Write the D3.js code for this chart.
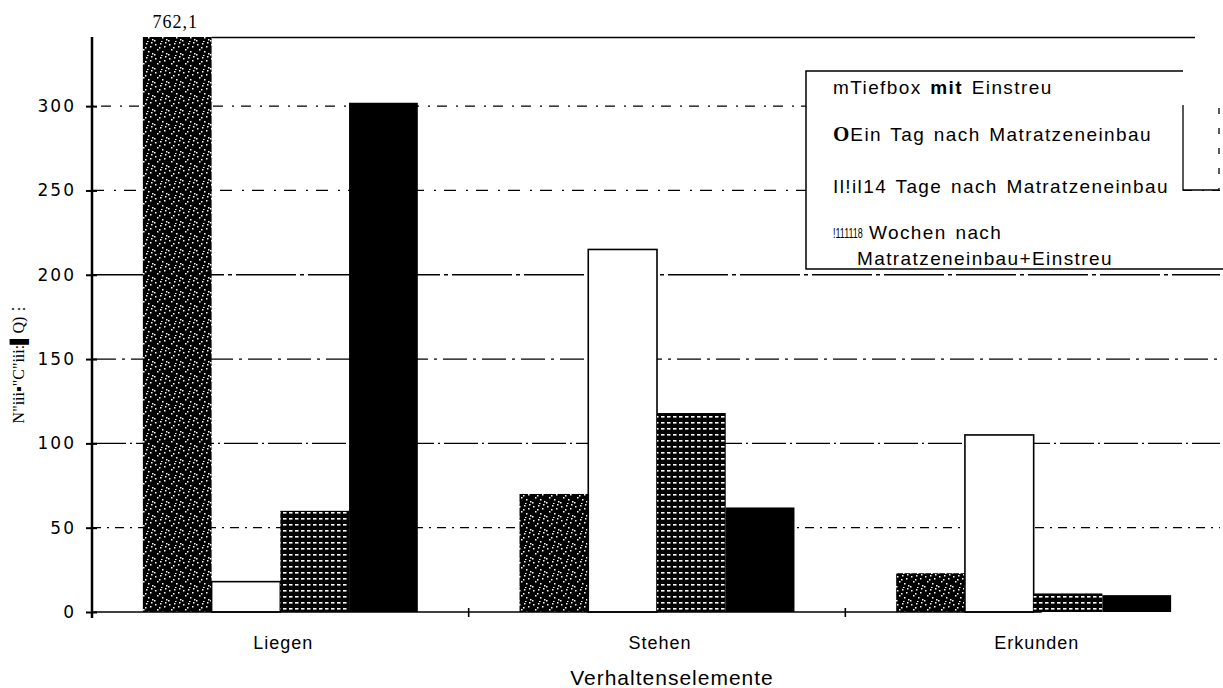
<!DOCTYPE html>
<html>
<head>
<meta charset="utf-8">
<script src="https://cdn.jsdelivr.net/npm/d3@7"></script>
<style>
  body { margin: 0; background: #fff; }
  svg { display: block; }
</style>
</head>
<body>
<script>
// chart values
var categories = ["Liegen", "Stehen", "Erkunden"];
var seriesKeys = ["tiefbox", "einTag", "vierzehnTage", "achtWochen"];
var tiefbox = [762.1, 70, 23];
var einTag = [18, 215, 105];
var vierzehnTage = [60, 118, 11];
var achtWochen = [302, 62, 10];
var yTicks = [0, 50, 100, 150, 200, 250, 300];
var brokenLabel = "762,1";

var width = 1223;
var height = 688;
var margin = { top: 37, right: 1, bottom: 76, left: 92 };
var yMax = 341;

var svg = d3.select("body").append("svg")
  .attr("width", width)
  .attr("height", height);

// fill patterns (fixed layouts, imitate the scan texture)
var defs = svg.append("defs");
var speck = defs.append("pattern")
  .attr("id", "speck").attr("patternUnits", "userSpaceOnUse")
  .attr("width", 14).attr("height", 14);
speck.append("rect").attr("width", 14).attr("height", 14).attr("fill", "#000");
[[1,2],[6,1],[10,4],[3,7],[8,9],[12,11],[0,12],[5,5],[11,0],[7,13]].forEach(function(p) {
  speck.append("rect").attr("x", p[0]).attr("y", p[1]).attr("width", 1.5).attr("height", 1.5).attr("fill", "#fff");
});
var grid = defs.append("pattern")
  .attr("id", "gridfill").attr("patternUnits", "userSpaceOnUse")
  .attr("width", 6).attr("height", 6);
grid.append("rect").attr("width", 6).attr("height", 6).attr("fill", "#000");
grid.append("rect").attr("x", 1).attr("y", 2).attr("width", 3.5).attr("height", 1.6).attr("fill", "#fff");

var fills = { tiefbox: "url(#speck)", einTag: "#fff", vierzehnTage: "url(#gridfill)", achtWochen: "#000" };
var seriesData = { tiefbox: tiefbox, einTag: einTag, vierzehnTage: vierzehnTage, achtWochen: achtWochen };

// scales
var x0 = d3.scaleBand().domain(categories)
  .range([margin.left, width - margin.right]).padding(0);
var x1 = d3.scaleBand().domain(seriesKeys)
  .range([0, x0.bandwidth()]).paddingInner(0).paddingOuter(0.74);
var yScale = d3.scaleLinear().domain([0, yMax]).range([height - margin.bottom, margin.top]);

// grid lines (broken in the scan)
var dashes = { 50: "9,6,2,6", 100: "34,4,2,4", 150: "24,6,3,6", 200: "60,4,4,4", 250: "12,10,2,8", 300: "2,7,10,9" };
svg.append("g").selectAll("line")
  .data(yTicks.filter(function(d) { return d > 0; }))
  .enter().append("line")
  .attr("x1", margin.left).attr("x2", width - 3)
  .attr("y1", function(d) { return yScale(d); })
  .attr("y2", function(d) { return yScale(d); })
  .attr("stroke", "#000").attr("stroke-width", 1.3)
  .attr("stroke-dasharray", function(d) { return dashes[d]; });

// top frame line
svg.append("line")
  .attr("x1", x0("Liegen") + x1("einTag")).attr("x2", 1195)
  .attr("y1", yScale(yMax) + 0.5).attr("y2", yScale(yMax) + 0.5)
  .attr("stroke", "#000").attr("stroke-width", 1.5);

// bars
var rows = [];
categories.forEach(function(c, i) {
  seriesKeys.forEach(function(k) {
    rows.push({ cat: c, key: k, value: seriesData[k][i] });
  });
});
svg.append("g").selectAll("rect")
  .data(rows)
  .enter().append("rect")
  .attr("x", function(d) { return x0(d.cat) + x1(d.key); })
  .attr("width", x1.bandwidth())
  .attr("y", function(d) { return yScale(Math.min(d.value, yMax)); })
  .attr("height", function(d) { return yScale(0) - yScale(Math.min(d.value, yMax)); })
  .attr("fill", function(d) { return fills[d.key]; })
  .attr("stroke", function(d) { return d.key === "einTag" ? "#000" : "none"; })
  .attr("stroke-width", 1.6);

// label for the bar that runs off the scale
svg.append("text")
  .attr("x", x0("Liegen") + x1("tiefbox") + x1.bandwidth() / 2 - 2)
  .attr("y", 28)
  .attr("text-anchor", "middle")
  .style("font-family", "Liberation Serif")
  .style("font-size", "18px")
  .style("letter-spacing", "1px")
  .text(brokenLabel);

// y axis
var yAxis = d3.axisLeft(yScale).tickValues(yTicks).tickSize(6).tickPadding(10);
var gy = svg.append("g")
  .attr("transform", "translate(" + margin.left + ",0)")
  .call(yAxis);
gy.select(".domain").attr("stroke-width", 2.5).attr("d", "M0," + (yScale(yMax)) + "V" + (yScale(0) + 6));
gy.selectAll(".tick line").attr("x1", -6).attr("x2", 5).attr("stroke-width", 2);
gy.selectAll(".tick text")
  .style("font-family", "DejaVu Sans")
  .style("font-size", "17px")
  .style("letter-spacing", "2px")
  .attr("fill", "#000");

// x axis
svg.append("line")
  .attr("x1", margin.left).attr("x2", x0("Erkunden") + x1("vierzehnTage") + 8)
  .attr("y1", yScale(0)).attr("y2", yScale(0))
  .attr("stroke", "#000").attr("stroke-width", 1.6);
svg.append("g").selectAll("line")
  .data(categories)
  .enter().append("line")
  .attr("x1", function(d) { return x0(d); })
  .attr("x2", function(d) { return x0(d); })
  .attr("y1", yScale(0) - 4).attr("y2", yScale(0) + 5)
  .attr("stroke", "#000").attr("stroke-width", 1.6);
svg.append("g").selectAll("text")
  .data(categories)
  .enter().append("text")
  .attr("x", function(d) { return x0(d) + x0.bandwidth() / 2 + 3; })
  .attr("y", 649)
  .attr("text-anchor", "middle")
  .style("font-family", "Liberation Sans")
  .style("font-size", "18px")
  .style("letter-spacing", "1px")
  .text(function(d) { return d; });

svg.append("text")
  .attr("x", 672).attr("y", 685)
  .attr("text-anchor", "middle")
  .style("font-family", "Liberation Sans")
  .style("font-size", "21px")
  .style("letter-spacing", "1px")
  .text("Verhaltenselemente");

// y axis title (garbled in the scan)
svg.append("text")
  .attr("transform", "translate(24,362) rotate(-90)")
  .attr("text-anchor", "middle")
  .style("font-family", "Liberation Serif")
  .style("font-size", "16px")
  .text("N\"iii\u25AA\"C\"iii:\u258CQ)\u22EE");

// legend
var lg = svg.append("g");
lg.append("rect")
  .attr("x", 806).attr("y", 71).attr("width", 377).attr("height", 198)
  .attr("fill", "#fff").attr("stroke", "none");
lg.append("path")
  .attr("d", "M1183,71H806V269H1223")
  .attr("fill", "none").attr("stroke", "#000").attr("stroke-width", 1.5);
lg.append("rect")
  .attr("x", 1184).attr("y", 104).attr("width", 39).attr("height", 86)
  .attr("fill", "#fff");
lg.append("path")
  .attr("d", "M1183,105V190H1219")
  .attr("fill", "none").attr("stroke", "#000").attr("stroke-width", 1.3);
lg.append("path")
  .attr("d", "M1219,108V190")
  .attr("fill", "none").attr("stroke", "#000").attr("stroke-width", 1.3)
  .attr("stroke-dasharray", "6,14");

var legFont = "Liberation Sans";
var legSize = "19px";
var legSpacing = "1.4px";
function legText(x, y) {
  return lg.append("text").attr("x", x).attr("y", y)
    .style("font-family", legFont).style("font-size", legSize)
    .style("letter-spacing", legSpacing).style("word-spacing", "2px");
}
var t1 = legText(833, 94);
t1.append("tspan").text("mTiefbox ");
t1.append("tspan").style("font-weight", "bold").text("mit");
t1.append("tspan").text(" Einstreu");

var t2 = legText(833, 141);
t2.append("tspan").style("font-family", "Liberation Serif").style("font-weight", "bold")
  .style("font-size", "21px").style("letter-spacing", "0px").text("O");
t2.append("tspan").attr("dx", 1).text("Ein Tag nach Matratzeneinbau");

legText(833, 193).text("Il!il14 Tage nach Matratzeneinbau");

// squeezed scan residue in front of the last entry
lg.append("text")
  .attr("transform", "translate(833,238) scale(1,1.55)")
  .style("font-family", legFont).style("font-size", "9px")
  .text("!111118");
legText(869, 239).text("Wochen nach");
legText(857, 265).text("Matratzeneinbau+Einstreu");
</script>
</body>
</html>
